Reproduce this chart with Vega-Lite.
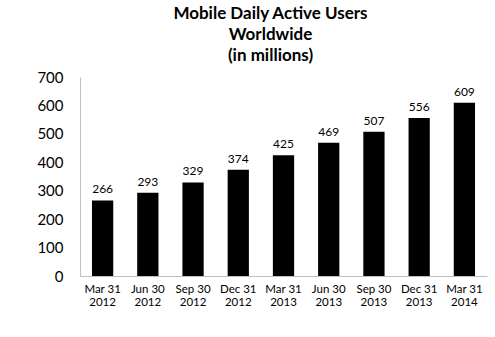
{
  "$schema": "https://vega.github.io/schema/vega-lite/v6.json",
  "width": 407,
  "height": 199,
  "autosize": {"type": "none"},
  "padding": {"left": 80, "top": 77, "right": 8, "bottom": 61},
  "background": "white",
  "title": {
    "text": ["Mobile Daily Active Users", "Worldwide", "(in millions)"],
    "font": "Lato",
    "fontSize": 17,
    "fontWeight": "bold",
    "lineHeight": 21,
    "color": "#000",
    "anchor": "middle",
    "dx": -13,
    "offset": 5
  },
  "data": {
    "values": [
      {"q": "Mar 31\n2012", "v": 266},
      {"q": "Jun 30\n2012", "v": 293},
      {"q": "Sep 30\n2012", "v": 329},
      {"q": "Dec 31\n2012", "v": 374},
      {"q": "Mar 31\n2013", "v": 425},
      {"q": "Jun 30\n2013", "v": 469},
      {"q": "Sep 30\n2013", "v": 507},
      {"q": "Dec 31\n2013", "v": 556},
      {"q": "Mar 31\n2014", "v": 609}
    ]
  },
  "config": {
    "view": {"stroke": null},
    "font": "Lato"
  },
  "encoding": {
    "x": {
      "field": "q",
      "type": "nominal",
      "sort": null,
      "scale": {"paddingInner": 0.53, "paddingOuter": 0.265},
      "axis": {
        "title": null,
        "labelAngle": 0,
        "labelFontSize": 11.5,
        "labelLineHeight": 13,
        "labelColor": "#000",
        "labelFont": "Lato",
        "labelPadding": 7,
        "ticks": false,
        "domainColor": "#bfbfbf",
        "domainWidth": 1,
        "labelExpr": "split(datum.value, '\\n')"
      }
    },
    "y": {
      "field": "v",
      "type": "quantitative",
      "scale": {"domain": [0, 700]},
      "axis": {
        "title": null,
        "values": [0, 100, 200, 300, 400, 500, 600, 700],
        "grid": false,
        "ticks": false,
        "labelFontSize": 15,
        "labelColor": "#000",
        "labelFont": "Lato",
        "labelPadding": 17,
        "domainColor": "#bfbfbf",
        "domainWidth": 1
      }
    }
  },
  "layer": [
    {"mark": {"type": "bar", "color": "#000"}},
    {
      "mark": {"type": "text", "baseline": "bottom", "dy": -4, "fontSize": 12, "color": "#000", "font": "Lato"},
      "encoding": {"text": {"field": "v", "type": "quantitative"}}
    }
  ]
}
